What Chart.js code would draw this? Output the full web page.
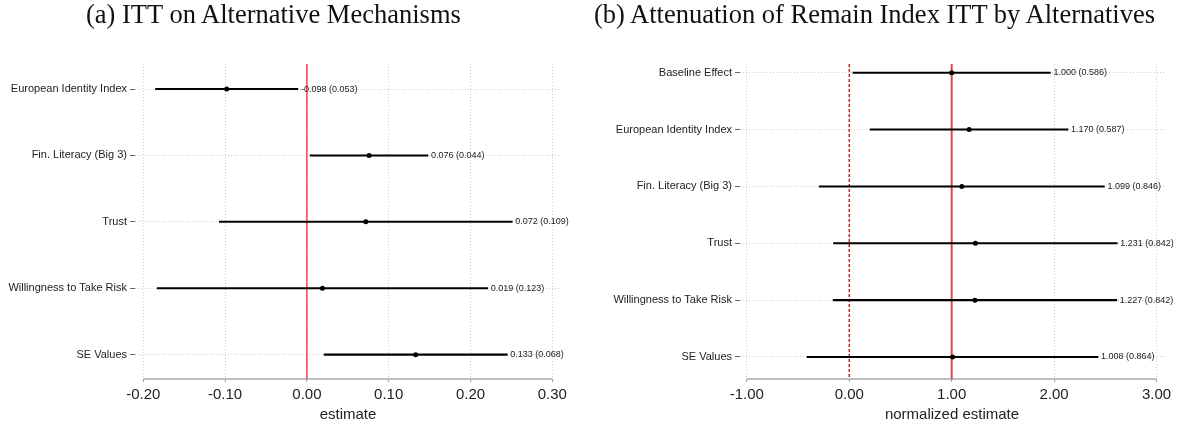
<!DOCTYPE html>
<html>
<head>
<meta charset="utf-8">
<script src="https://cdn.jsdelivr.net/npm/chart.js@4.4.1/dist/chart.umd.min.js"></script>
<style>
  html, body { margin: 0; padding: 0; background: #fff; }
  #wrap { position: relative; width: 1180px; height: 425px; overflow: hidden; }
  .panel { position: absolute; top: 0; width: 590px; height: 425px; }
  .title { position: absolute; top: 1px; font: 26.5px "Liberation Serif", "Times New Roman", serif; line-height: 26.5px; color: #111; white-space: nowrap; }
</style>
</head>
<body>
<div id="wrap">
  <div class="panel" style="left:0"><canvas id="chartA" width="590" height="425"></canvas></div>
  <div class="panel" style="left:590px"><canvas id="chartB" width="590" height="425"></canvas></div>
  <div class="title" style="left:86px">(a) ITT on Alternative Mechanisms</div>
  <div class="title" style="left:594px">(b) Attenuation of Remain Index ITT by Alternatives</div>
</div>
<script>
// (a) ITT on alternative mechanisms: estimate, SE and 90% CI bounds
const mechLabels = ['European Identity Index', 'Fin. Literacy (Big 3)', 'Trust', 'Willingness to Take Risk', 'SE Values'];
const mechEst = [-0.098, 0.076, 0.072, 0.019, 0.133];
const mechSE = [0.053, 0.044, 0.109, 0.123, 0.068];
const mechLow = [-0.185, 0.004, -0.107, -0.183, 0.021];
const mechHigh = [-0.011, 0.148, 0.251, 0.221, 0.245];
const mechTicks = [-0.2, -0.1, 0, 0.1, 0.2, 0.3];

// (b) normalized remain-index ITT after adding each alternative
const attLabels = ['Baseline Effect', 'European Identity Index', 'Fin. Literacy (Big 3)', 'Trust', 'Willingness to Take Risk', 'SE Values'];
const attEst = [1.000, 1.170, 1.099, 1.231, 1.227, 1.008];
const attSE = [0.586, 0.587, 0.846, 0.842, 0.842, 0.864];
const attLow = [0.036, 0.204, -0.293, -0.154, -0.158, -0.413];
const attHigh = [1.964, 2.136, 2.491, 2.616, 2.612, 2.429];
const attTicks = [-1, 0, 1, 2, 3];

const SANS = '"Liberation Sans", Arial, Helvetica, sans-serif';
const GRID = '#cdcdcd';

// vertical reference lines, axis line and "est (se)" labels
const forestPlugin = {
  id: 'forest',
  beforeDatasetsDraw(chart, args, opts) {
    const { ctx, chartArea } = chart;
    const xs = chart.scales.x;
    ctx.save();
    // x axis line only spans the tick range
    ctx.strokeStyle = '#a9a9a9';
    ctx.lineWidth = 1.5;
    ctx.beginPath();
    ctx.moveTo(xs.getPixelForValue(opts.ticks[0]), chartArea.bottom);
    ctx.lineTo(xs.getPixelForValue(opts.ticks[opts.ticks.length - 1]), chartArea.bottom);
    ctx.stroke();
    opts.refLines.forEach(r => {
      const px = xs.getPixelForValue(r.value);
      ctx.strokeStyle = r.color;
      ctx.lineWidth = r.width;
      ctx.setLineDash(r.dash);
      ctx.beginPath();
      ctx.moveTo(px, chartArea.top);
      ctx.lineTo(px, chartArea.bottom);
      ctx.stroke();
    });
    ctx.restore();
  },
  afterDatasetsDraw(chart, args, opts) {
    const { ctx } = chart;
    const xs = chart.scales.x, ys = chart.scales.y;
    ctx.save();
    ctx.font = '9px ' + SANS;
    ctx.fillStyle = '#222';
    ctx.textAlign = 'left';
    ctx.textBaseline = 'middle';
    opts.est.forEach((e, i) => {
      const txt = e.toFixed(3) + ' (' + opts.se[i].toFixed(3) + ')';
      ctx.fillText(txt, xs.getPixelForValue(opts.high[i]) + 3, ys.getPixelForValue(i + 1));
    });
    ctx.restore();
  }
};

function forestChart(id, cfg) {
  const rows = cfg.labels.map((_, i) => i + 1);
  return new Chart(document.getElementById(id), {
    type: 'scatter',
    data: {
      datasets: [
        {
          type: 'bar',
          indexAxis: 'y',
          data: rows.map((r, i) => ({ x: [cfg.low[i], cfg.high[i]], y: r })),
          backgroundColor: '#000',
          borderWidth: 0,
          barThickness: 1.4
        },
        {
          type: 'scatter',
          data: rows.map((r, i) => ({ x: cfg.est[i], y: r })),
          backgroundColor: '#000',
          borderWidth: 0,
          pointRadius: 2.5
        }
      ]
    },
    options: {
      responsive: false,
      animation: false,
      devicePixelRatio: 1,
      layout: { padding: { left: 0, top: 64, right: cfg.padRight, bottom: 0 } },
      plugins: {
        legend: { display: false },
        tooltip: { enabled: false },
        forest: { est: cfg.est, se: cfg.se, high: cfg.high, ticks: cfg.ticks, refLines: cfg.refLines }
      },
      scales: {
        x: {
          type: 'linear',
          position: 'bottom',
          min: cfg.xMin,
          max: cfg.xMax,
          afterBuildTicks: s => { s.ticks = cfg.ticks.map(v => ({ value: v })); },
          afterFit: s => { s.height = 46; },
          grid: { color: GRID, lineWidth: 1, drawTicks: true, tickLength: 3, tickColor: '#a9a9a9', tickWidth: 1.2, tickBorderDash: [] },
          border: { display: false, dash: [1, 2] },
          ticks: { color: '#222', font: { family: SANS, size: 15 }, padding: 4, maxRotation: 0, autoSkip: false,
                   callback: v => v.toFixed(2) },
          title: { display: true, text: cfg.xTitle, color: '#222', font: { family: SANS, size: 15 }, padding: { top: 0, bottom: 1 } }
        },
        y: {
          type: 'linear',
          position: 'left',
          reverse: true,
          offset: false,
          min: cfg.yMin,
          max: cfg.yMax,
          afterBuildTicks: s => { s.ticks = rows.map(v => ({ value: v })); },
          afterFit: s => { s.width = cfg.axisWidth; },
          grid: { offset: false, color: GRID, lineWidth: 1, drawTicks: true, tickLength: 5, tickColor: '#666', tickWidth: 1, tickBorderDash: [] },
          border: { display: false, dash: [1, 2] },
          ticks: { color: '#222', font: { family: SANS, size: 11 }, padding: 3, autoSkip: false,
                   callback: v => cfg.labels[Math.round(v) - 1] }
        }
      }
    },
    plugins: [forestPlugin]
  });
}

forestChart('chartA', {
  labels: mechLabels, est: mechEst, se: mechSE, low: mechLow, high: mechHigh, ticks: mechTicks,
  xMin: -0.2101, xMax: 0.3106, yMin: 0.623, yMax: 5.367,
  axisWidth: 135, padRight: 29, xTitle: 'estimate',
  refLines: [{ value: 0, color: '#e8191c', width: 1.2, dash: [] }]
});

forestChart('chartB', {
  labels: attLabels, est: attEst, se: attSE, low: attLow, high: attHigh, ticks: attTicks,
  xMin: -1.067, xMax: 3.073, yMin: 0.847, yMax: 6.387,
  axisWidth: 150, padRight: 16, xTitle: 'normalized estimate',
  refLines: [
    { value: 0, color: '#ee1c1c', width: 1.5, dash: [3, 2] },
    { value: 1, color: 'rgba(222,40,40,0.85)', width: 2, dash: [] }
  ]
});
</script>
</body>
</html>
